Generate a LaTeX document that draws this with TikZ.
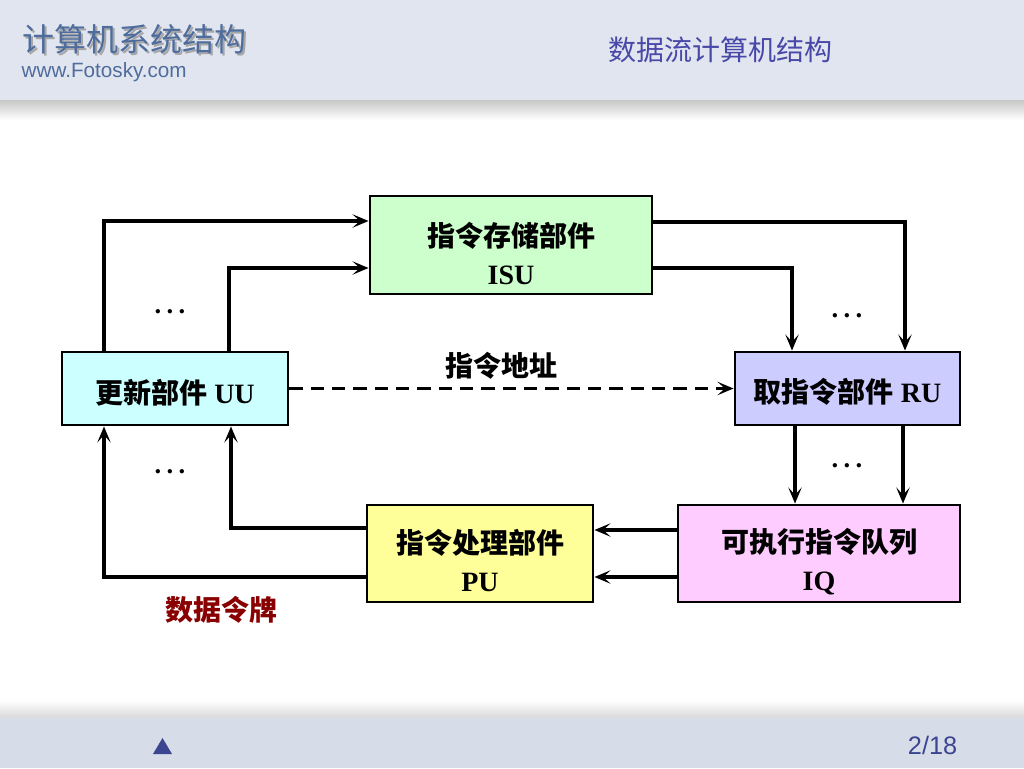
\documentclass[tikz,border=0pt]{standalone}
\usepackage{fontspec}
\setmainfont{Liberation Serif}
\newfontfamily\cjk{Noto Sans CJK SC}
\newfontfamily\sans{Liberation Sans}
\usetikzlibrary{arrows.meta,shadings}
\definecolor{hdr}{HTML}{E1E5EF}
\definecolor{ftr}{HTML}{D6DCE8}
\definecolor{ttl}{HTML}{4E6C9C}
\definecolor{sub}{HTML}{4848A8}
\definecolor{navy}{HTML}{3C4690}
\definecolor{isuc}{HTML}{CCFFCC}
\definecolor{uuc}{HTML}{CCFFFF}
\definecolor{ruc}{HTML}{CCCCFF}
\definecolor{puc}{HTML}{FFFF99}
\definecolor{iqc}{HTML}{FFCCFF}
\definecolor{tok}{HTML}{880000}
\newcommand{\mydots}{.\hspace{4pt}.\hspace{4pt}.}
\begin{document}
\begin{tikzpicture}[x=0.75pt,y=-0.75pt,
  box/.style={draw=black,line width=2.2pt,inner sep=0pt},
  txt/.style={align=center,inner sep=0pt,font=\bfseries\fontsize{21}{28.5}\selectfont},
  arr/.style={line width=2.4pt,-{Stealth[length=12pt,width=10pt,inset=5.5pt]}},
  dotsl/.style={font=\bfseries\fontsize{20}{22}\selectfont},
  lab/.style={font=\cjk\bfseries\fontsize{21}{24}\selectfont}]
\useasboundingbox (0,0) rectangle (1024,768);
% header
\fill[hdr] (0,0) rectangle (1024,100);
\shade[top color=black!22,bottom color=white] (0,100) rectangle (1024,120);
% footer
\shade[top color=white,bottom color=black!15] (0,700) rectangle (1024,718);
\fill[ftr] (0,718) rectangle (1024,768);
% header texts
\node[text=black!35,font=\cjk\fontsize{24}{26}\selectfont,anchor=west] (ttls) at (20,41) {计算机系统结构};
\node[text=ttl,font=\cjk\fontsize{24}{26}\selectfont,anchor=west] (ttl) at (18,39) {计算机系统结构};
\node[text=ttl,font=\sans\fontsize{15.5}{17}\selectfont,anchor=west] (url) at (17,72) {www.Fotosky.com};
\node[text=sub,font=\cjk\fontsize{21}{24}\selectfont] (sub) at (720,50) {数据流计算机结构};
% footer items
\fill[navy] (153,754) -- (162.5,738) -- (172,754) -- cycle;
\node[text=navy,font=\sans\fontsize{19}{22}\selectfont,anchor=east] (pg) at (962,745) {2/18};
% boxes
\node[box,fill=isuc,minimum width=211.5pt,minimum height=73.5pt] (ISU) at (511,245) {};
\node[box,fill=uuc,minimum width=169.5pt,minimum height=54.75pt] (UU) at (175,388.5) {};
\node[box,fill=ruc,minimum width=168.75pt,minimum height=54.75pt] (RU) at (847.5,388.5) {};
\node[box,fill=puc,minimum width=169.5pt,minimum height=72.75pt] (PU) at (480,553.5) {};
\node[box,fill=iqc,minimum width=211.5pt,minimum height=72.75pt] (IQ) at (819,553.5) {};
\node[txt] (ISUt) at ([yshift=-6pt]ISU.center) {{\cjk 指令存储部件}\\ISU};
\node[txt] (UUt) at ([yshift=-3.5pt]UU.center) {{\cjk 更新部件} UU};
\node[txt] (RUt) at ([yshift=-2.5pt]RU.center) {{\cjk 取指令部件} RU};
\node[txt] (PUt) at ([yshift=-5.5pt]PU.center) {{\cjk 指令处理部件}\\PU};
\node[txt] (IQt) at ([yshift=-6pt]IQ.center) {{\cjk 可执行指令队列}\\IQ};
% coordinates
\coordinate (a1) at (104,221);
\coordinate (a2) at (229,268);
\coordinate (b1) at (905,222);
\coordinate (b2) at (792,268);
\coordinate (d1) at (795,0);
\coordinate (d2) at (903,0);
\coordinate (e1) at (0,530);
\coordinate (e2) at (0,577);
\coordinate (f1) at (231,528);
\coordinate (f2) at (104,577);
% connectors
\draw[arr] (UU.north -| a1) |- (ISU.west |- a1);
\draw[arr] (UU.north -| a2) |- (ISU.west |- a2);
\draw[arr] (ISU.east |- b1) -| (RU.north -| b1);
\draw[arr] (ISU.east |- b2) -| (RU.north -| b2);
\draw[arr,dash pattern=on 10pt off 6pt] (UU.east) -- (RU.west);
\draw[arr] (RU.south -| d1) -- (IQ.north -| d1);
\draw[arr] (RU.south -| d2) -- (IQ.north -| d2);
\draw[arr] (IQ.west |- e1) -- (PU.east |- e1);
\draw[arr] (IQ.west |- e2) -- (PU.east |- e2);
\draw[arr] (PU.west |- f1) -| (UU.south -| f1);
\draw[arr] (PU.west |- f2) -| (UU.south -| f2);
% labels
\node[dotsl] (dt1) at (170,312) {\mydots};
\node[dotsl] (dt2) at (847,316) {\mydots};
\node[dotsl] (dt3) at (847,466) {\mydots};
\node[dotsl] (dt4) at (170,472) {\mydots};
\node[lab] (addr) at (501,366) {指令地址};
\node[lab,text=tok] (token) at (221,610) {数据令牌};
\end{tikzpicture}
\end{document}
